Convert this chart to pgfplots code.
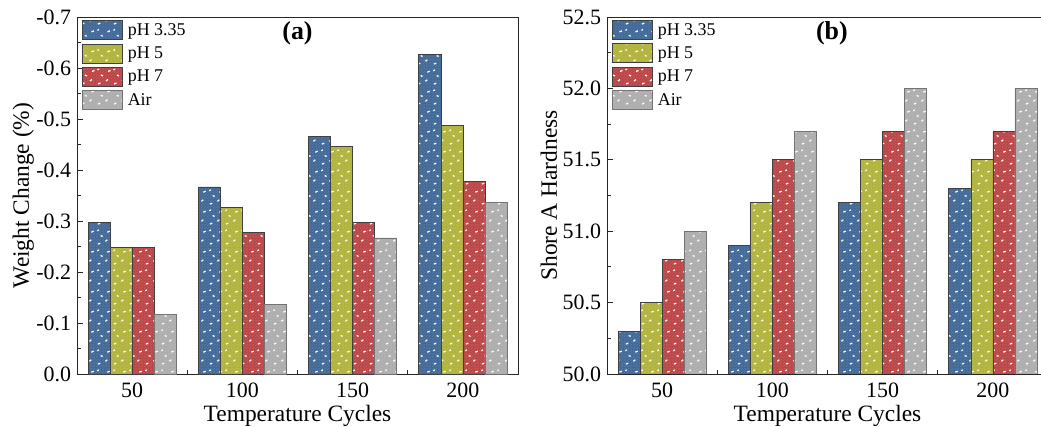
\documentclass[border=0pt]{standalone}
\usepackage{fontspec}
\setmainfont{Liberation Serif}
\usepackage{pgfplots}
\pgfplotsset{compat=1.18}
\usetikzlibrary{patterns}

\definecolor{cblue}{RGB}{66,106,152}
\definecolor{colive}{RGB}{178,180,62}
\definecolor{cred}{RGB}{188,70,72}
\definecolor{cgray}{RGB}{174,174,174}

% small white flecks laid over the bar fills
\pgfdeclarepatternformonly{speckle}{\pgfqpoint{0bp}{0bp}}{\pgfqpoint{16bp}{20bp}}{\pgfqpoint{16bp}{20bp}}{%
  \pgfsetlinewidth{1.3bp}%
  \pgfpathmoveto{\pgfqpoint{2bp}{3bp}}\pgfpathlineto{\pgfqpoint{4.5bp}{4bp}}%
  \pgfpathmoveto{\pgfqpoint{10bp}{6bp}}\pgfpathlineto{\pgfqpoint{12bp}{7.5bp}}%
  \pgfpathmoveto{\pgfqpoint{5bp}{12bp}}\pgfpathlineto{\pgfqpoint{7bp}{11bp}}%
  \pgfpathmoveto{\pgfqpoint{12bp}{15.5bp}}\pgfpathlineto{\pgfqpoint{14.5bp}{16.5bp}}%
  \pgfpathmoveto{\pgfqpoint{1.5bp}{17bp}}\pgfpathlineto{\pgfqpoint{3bp}{18bp}}%
  \pgfusepath{stroke}%
}
% fine diagonal hatching
\pgfdeclarepatternformonly{finehatch}{\pgfqpoint{0bp}{0bp}}{\pgfqpoint{3bp}{3bp}}{\pgfqpoint{3bp}{3bp}}{%
  \pgfsetlinewidth{0.5bp}%
  \pgfpathmoveto{\pgfqpoint{0bp}{0bp}}\pgfpathlineto{\pgfqpoint{3bp}{3bp}}%
  \pgfusepath{stroke}%
}

\pgfplotstableread{
x  pa     pb     pc     pd
0  -0.298 -0.248 -0.248 -0.117
1  -0.367 -0.327 -0.277 -0.137
2  -0.466 -0.447 -0.298 -0.267
3  -0.627 -0.488 -0.378 -0.337
}\weighttable

\pgfplotstableread{
x  pa    pb    pc    pd
0  50.3  50.5  50.8  51.0
1  50.9  51.2  51.5  51.7
2  51.2  51.5  51.7  52.0
3  51.3  51.5  51.7  52.0
}\hardtable

\pgfplotsset{
  panel/.style={
    ybar, bar width=0.2,
    scale only axis, width=441bp, height=357bp,
    xmin=-0.5, xmax=3.5,
    xtick={0,1,2,3}, xticklabels={50,100,150,200},
    minor xtick={0.5,1.5,2.5},
    tick align=inside, xtick pos=bottom, ytick pos=left,
    major tick length=6bp, minor tick length=4bp,
    tick style={black!85, line width=0.8bp},
    axis line style={black!85, line width=0.9bp},
    /pgf/number format/assume math mode=true,
    yticklabel style={xshift=-2.5bp, /pgf/number format/.cd, fixed, fixed zerofill, precision=1},
    xticklabel style={yshift=-5bp},
    ticklabel style={font=\fontsize{22}{22}\selectfont},
    label style={font=\fontsize{23.5}{23.5}\selectfont},
    xlabel={Temperature Cycles},
    xlabel style={at={(axis description cs:0.5,-0.116)}, anchor=center},
    legend style={draw=none, fill=none, at={(rel axis cs:0,1)}, anchor=north west,
      xshift=5bp, yshift=-3bp, inner sep=0pt, row sep=3.7bp,
      font=\fontsize{18}{18}\selectfont,
      nodes={inner ysep=0pt, inner xsep=5bp, anchor=west}},
    legend cell align=left,
    legend image code/.code={\draw[##1] (0bp,-9.5bp) rectangle (40bp,9.5bp);},
  },
  barA/.style={fill=cblue, draw=black!75, line width=0.6bp,
    postaction={pattern=finehatch, pattern color=white, fill opacity=0.12},
    postaction={pattern=speckle, pattern color=white}},
  barB/.style={fill=colive, draw=black!75, line width=0.6bp,
    postaction={pattern=finehatch, pattern color=white, fill opacity=0.12},
    postaction={pattern=speckle, pattern color=white}},
  barC/.style={fill=cred, draw=black!75, line width=0.6bp,
    postaction={pattern=finehatch, pattern color=white, fill opacity=0.12},
    postaction={pattern=speckle, pattern color=white}},
  barD/.style={fill=cgray, draw=black!55, line width=0.6bp,
    postaction={pattern=finehatch, pattern color=white, fill opacity=0.12},
    postaction={pattern=speckle, pattern color=white}},
}

\begin{document}
\begin{tikzpicture}
\path[use as bounding box] (0bp,0bp) rectangle (1041bp,427bp);

% (a) weight change
\begin{axis}[panel, at={(77bp,53bp)}, anchor=south west,
    y dir=reverse, ymin=-0.7, ymax=0,
    ytick={-0.7,-0.6,...,0}, minor y tick num=1,
    ylabel={Weight Change (\%)},
    ylabel style={at={(axis description cs:-0.122,0.5)}, anchor=center}]
  \addplot[barA, bar shift=-0.3] table[x=x, y=pa] {\weighttable};
  \addplot[barB, bar shift=-0.1] table[x=x, y=pb] {\weighttable};
  \addplot[barC, bar shift=0.1]  table[x=x, y=pc] {\weighttable};
  \addplot[barD, bar shift=0.3]  table[x=x, y=pd] {\weighttable};
  \legend{pH 3.35, pH 5, pH 7, Air}
  \node[font=\bfseries\fontsize{26}{26}\selectfont] at (rel axis cs:0.5,0.955) {(a)};
\end{axis}

% (b) hardness
\begin{axis}[panel, at={(607bp,53bp)}, anchor=south west,
    ymin=50, ymax=52.5,
    ytick={50,50.5,...,52.5}, minor y tick num=1,
    ylabel={Shore A Hardness},
    ylabel style={at={(axis description cs:-0.132,0.5)}, anchor=center}]
  \addplot[barA, bar shift=-0.3] table[x=x, y=pa] {\hardtable};
  \addplot[barB, bar shift=-0.1] table[x=x, y=pb] {\hardtable};
  \addplot[barC, bar shift=0.1]  table[x=x, y=pc] {\hardtable};
  \addplot[barD, bar shift=0.3]  table[x=x, y=pd] {\hardtable};
  \legend{pH 3.35, pH 5, pH 7, Air}
  \node[font=\bfseries\fontsize{26}{26}\selectfont] at (rel axis cs:0.51,0.955) {(b)};
\end{axis}
\end{tikzpicture}
\end{document}
